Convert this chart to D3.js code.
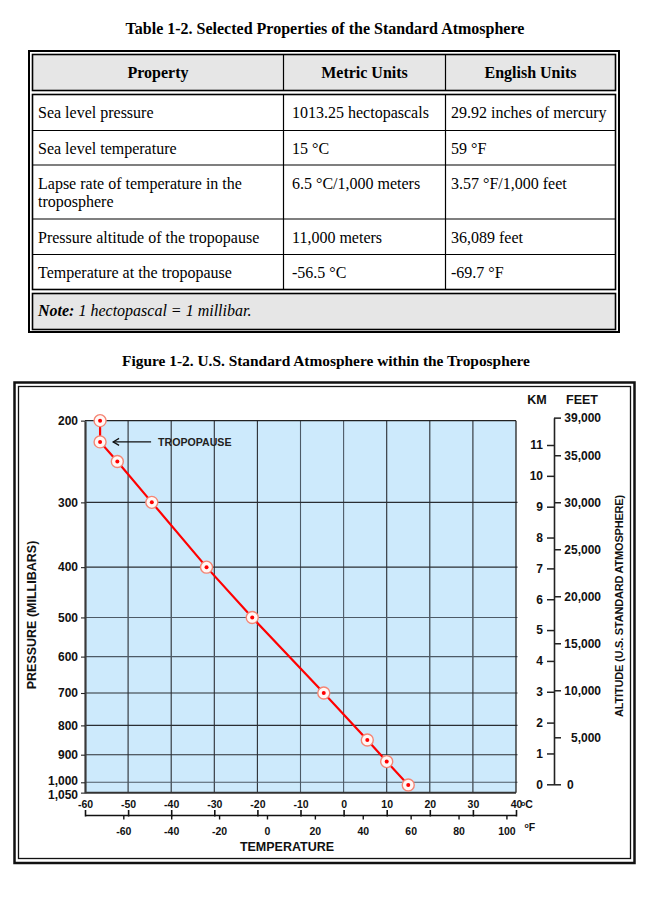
<!DOCTYPE html>
<html><head><meta charset="utf-8">
<script src="https://cdn.jsdelivr.net/npm/d3@7"></script>
<style>html,body{margin:0;padding:0;background:#fff;} svg{display:block;}</style>
</head><body><svg id="c" width="650" height="903"></svg>
<script>
// ---------------- DATA ----------------
const tableTitle = "Table 1-2. Selected Properties of the Standard Atmosphere";
const tableHeaders = ["Property", "Metric Units", "English Units"];
const tableProperty = [["Sea level pressure"], ["Sea level temperature"], ["Lapse rate of temperature in the", "troposphere"], ["Pressure altitude of the tropopause"], ["Temperature at the tropopause"]];
const tableMetric = ["1013.25 hectopascals", "15 °C", "6.5 °C/1,000 meters", "11,000 meters", "-56.5 °C"];
const tableEnglish = ["29.92 inches of mercury", "59 °F", "3.57 °F/1,000 feet", "36,089 feet", "-69.7 °F"];
const noteLabel = "Note:";
const noteText = " 1 hectopascal = 1 millibar.";

const figTitle = "Figure 1-2. U.S. Standard Atmosphere within the Troposphere";
// profile points (temperature °C vs pressure mb)
const tempC = [-56.5, -56.5, -52.5, -44.5, -31.8, -21.2, -4.6, 5.5, 10.0, 15.0];
const pressure = [200, 226, 250, 300, 400, 500, 700, 850, 925, 1013.25];
const tropopauseIndex = 1;
const tropopauseLabel = "TROPOPAUSE";
// pressure axis: ticks and their equivalent altitudes (km)
const pressureTicks = [200, 300, 400, 500, 600, 700, 800, 900, 1000, 1050];
const pressureTickLabels = ["200", "300", "400", "500", "600", "700", "800", "900", "1,000", "1,050"];
const pressureTickAltKm = [11.79, 9.14, 7.04, 5.41, 4.14, 2.96, 1.91, 0.96, 0.065, -0.27];
const tempCTicks = [-60, -50, -40, -30, -20, -10, 0, 10, 20, 30, 40];
const tempFTicks = [-60, -40, -20, 0, 20, 40, 60, 80, 100];
const kmTicks = [0, 1, 2, 3, 4, 5, 6, 7, 8, 9, 10, 11];
const feetTicks = [0, 5000, 10000, 15000, 20000, 25000, 30000, 35000, 39000];
const yLabel = "PRESSURE (MILLIBARS)";
const xLabel = "TEMPERATURE";
const rightLabel = "ALTITUDE (U.S. STANDARD ATMOSPHERE)";

// ---------------- DRAW ----------------
const svg = d3.select("#c");
const serif = "'Liberation Serif','Times New Roman',serif";
const sans = "'Liberation Sans',Arial,Helvetica,sans-serif";
const plain = d => String(d);

// ----- Table -----
svg.append("text").attr("x", 325).attr("y", 34).attr("text-anchor", "middle")
  .attr("font-family", serif).attr("font-weight", "bold").attr("font-size", 16).text(tableTitle);

const T = { l: 29, r: 619, t: 51, b: 332, il: 32.5, ir: 615.5 };
const colX = [T.il, 283.5, 445.5, T.ir];
const rowY = [94.5, 130.5, 165, 219, 254.5, 289.5];
svg.append("rect").attr("x", T.l).attr("y", T.t).attr("width", T.r - T.l).attr("height", T.b - T.t)
  .attr("fill", "none").attr("stroke", "#000").attr("stroke-width", 2);
svg.append("rect").attr("x", T.il).attr("y", 54.5).attr("width", T.ir - T.il).attr("height", 36)
  .attr("fill", "#e6e6e6").attr("stroke", "#000").attr("stroke-width", 1.6);
svg.append("rect").attr("x", T.il).attr("y", rowY[0]).attr("width", T.ir - T.il).attr("height", rowY[5] - rowY[0])
  .attr("fill", "#fff").attr("stroke", "#000").attr("stroke-width", 1.6);
svg.append("rect").attr("x", T.il).attr("y", 293.5).attr("width", T.ir - T.il).attr("height", 36)
  .attr("fill", "#e6e6e6").attr("stroke", "#000").attr("stroke-width", 1.6);
[1, 2].forEach(i => {
  svg.append("line").attr("x1", colX[i]).attr("x2", colX[i]).attr("y1", 54.5).attr("y2", 90.5).attr("stroke", "#000").attr("stroke-width", 1.2);
  svg.append("line").attr("x1", colX[i]).attr("x2", colX[i]).attr("y1", rowY[0]).attr("y2", rowY[5]).attr("stroke", "#000").attr("stroke-width", 1.2);
});
rowY.slice(1, 5).forEach(y => svg.append("line").attr("x1", T.il).attr("x2", T.ir).attr("y1", y).attr("y2", y).attr("stroke", "#000").attr("stroke-width", 1.2));
tableHeaders.forEach((h, i) => {
  svg.append("text").attr("x", (colX[i] + colX[i + 1]) / 2).attr("y", 78).attr("text-anchor", "middle")
    .attr("font-family", serif).attr("font-weight", "bold").attr("font-size", 16).text(h);
});
const cellText = (x, y, s) => svg.append("text").attr("x", x).attr("y", y).attr("font-family", serif).attr("font-size", 16).attr("fill", "#000").text(s);
tableProperty.forEach((lines, i) => {
  lines.forEach((s, j) => cellText(38, rowY[i] + 23.5 + j * 18.5, s));
  cellText(292, rowY[i] + 23.5, tableMetric[i]);
  cellText(451, rowY[i] + 23.5, tableEnglish[i]);
});
const note = svg.append("text").attr("x", 38).attr("y", 316).attr("font-family", serif).attr("font-size", 16).attr("font-style", "italic");
note.append("tspan").attr("font-weight", "bold").text(noteLabel);
note.append("tspan").text(noteText);

// ----- Figure -----
svg.append("text").attr("x", 326).attr("y", 366).attr("text-anchor", "middle")
  .attr("font-family", serif).attr("font-weight", "bold").attr("font-size", 15.4).text(figTitle);
svg.append("rect").attr("x", 14.5).attr("y", 382.5).attr("width", 620).attr("height", 480.5)
  .attr("fill", "none").attr("stroke", "#111").attr("stroke-width", 2.5);
svg.append("rect").attr("x", 18.5).attr("y", 386.5).attr("width", 612).attr("height", 472)
  .attr("fill", "none").attr("stroke", "#111").attr("stroke-width", 1.3);

const x = d3.scaleLinear().domain([-60, 40]).range([85, 516]);
const xF = d3.scaleLinear().domain([-76, 104]).range([85, 516]);
const yKm = d3.scaleLinear().domain([0, 11]).range([784.3, 445]);
const yFt = d3.scaleLinear().domain([0, 39000]).range([yKm(0), yKm(39000 / 3280.84)]);
const yP = d3.scaleLinear().domain(pressureTicks).range(pressureTickAltKm.map(k => yKm(k)));

const pTop = yP(200), pBot = yP(1050);
svg.append("rect").attr("x", x(-60)).attr("y", pTop).attr("width", x(40) - x(-60)).attr("height", pBot - pTop)
  .attr("fill", "#cdeafc");

const grid = svg.append("g");
grid.selectAll(".v").data(tempCTicks.slice(1, -1)).join("line")
  .attr("x1", d => x(d)).attr("x2", d => x(d)).attr("y1", pTop).attr("y2", pBot)
  .attr("stroke", d => (d === -10 || d === 0) ? "#4d5a66" : "#2a2e33").attr("stroke-width", 1.1);
grid.selectAll(".h").data(pressureTicks.slice(1, -1)).join("line")
  .attr("x1", x(-60)).attr("x2", x(40) + 1.5).attr("y1", d => yP(d)).attr("y2", d => yP(d))
  .attr("stroke", d => (d === 1000 || d === 500 || d === 600) ? "#4d5a66" : "#2a2e33").attr("stroke-width", 1.1);
svg.append("line").attr("x1", x(-60)).attr("x2", x(40)).attr("y1", pTop).attr("y2", pTop).attr("stroke", "#222").attr("stroke-width", 1.3);
svg.append("line").attr("x1", x(40)).attr("x2", x(40)).attr("y1", pTop).attr("y2", pBot).attr("stroke", "#222").attr("stroke-width", 1.3);
svg.append("line").attr("x1", x(-60)).attr("x2", x(40)).attr("y1", pBot).attr("y2", pBot).attr("stroke", "#333").attr("stroke-width", 2);

// left pressure axis
const axL = svg.append("g").attr("transform", `translate(${x(-60)},0)`)
  .call(d3.axisLeft(yP).tickValues(pressureTicks).tickFormat((d, i) => pressureTickLabels[i])
    .tickSizeInner(4).tickSizeOuter(0).tickPadding(3));
axL.select(".domain").attr("stroke", "#3a3a3a").attr("stroke-width", 2.2);
axL.selectAll(".tick line").attr("stroke", "#222").attr("stroke-width", 1.1);
axL.selectAll(".tick text").attr("font-family", sans).attr("font-weight", "bold").attr("font-size", 12).attr("fill", "#111");
axL.selectAll(".tick").filter(d => d === 1050).select("text").attr("dy", "0.45em");
axL.selectAll(".tick").filter(d => d === 1000).select("text").attr("dy", "0.22em");

// bottom Celsius axis
const axC = svg.append("g").attr("transform", "translate(0,815)")
  .call(d3.axisBottom(x).tickValues(tempCTicks).tickFormat(plain).tickSizeInner(-5).tickSizeOuter(0).tickPadding(-14.5));
axC.select(".domain").attr("stroke", "#111").attr("stroke-width", 1.6);
axC.selectAll(".tick line").attr("stroke", "#111").attr("stroke-width", 1.6).attr("y2", -5).attr("y1", 1.5);
axC.selectAll(".tick text").attr("font-family", sans).attr("font-weight", "bold").attr("font-size", 10.5).attr("fill", "#111");
const cUnit = svg.append("text").attr("x", 521).attr("y", 808).attr("font-family", sans).attr("font-weight", "bold").attr("font-size", 10.5).attr("fill", "#111");
cUnit.append("tspan").attr("font-size", 7).attr("dy", -2.5).text("o");
cUnit.append("tspan").attr("dy", 2.5).text("C");

// bottom Fahrenheit axis
const axF = svg.append("g").attr("transform", "translate(0,815)")
  .call(d3.axisBottom(xF).tickValues(tempFTicks).tickFormat(plain).tickSizeInner(4.5).tickSizeOuter(0).tickPadding(8));
axF.select(".domain").remove();
axF.selectAll(".tick line").attr("stroke", "#111").attr("stroke-width", 1.4);
axF.selectAll(".tick text").attr("font-family", sans).attr("font-weight", "bold").attr("font-size", 10.5).attr("fill", "#111");
const fUnit = svg.append("text").attr("x", 524.5).attr("y", 831).attr("font-family", sans).attr("font-weight", "bold").attr("font-size", 10.5).attr("fill", "#111");
fUnit.append("tspan").attr("font-size", 7).attr("dy", -3).text("o");
fUnit.append("tspan").attr("dy", 3).text("F");

svg.append("text").attr("x", 287).attr("y", 851).attr("text-anchor", "middle")
  .attr("font-family", sans).attr("font-weight", "bold").attr("font-size", 12.5).attr("fill", "#111").text(xLabel);
svg.append("text").attr("transform", "translate(36,615) rotate(-90)").attr("text-anchor", "middle")
  .attr("font-family", sans).attr("font-weight", "bold").attr("font-size", 12.5).attr("fill", "#111").text(yLabel);

// right altitude axes
const axKm = svg.append("g").attr("transform", "translate(554,0)")
  .call(d3.axisLeft(yKm).tickValues(kmTicks).tickFormat(plain).tickSizeInner(7).tickSizeOuter(0).tickPadding(4));
axKm.select(".domain").remove();
axKm.selectAll(".tick line").attr("stroke", "#222").attr("stroke-width", 1.5);
axKm.selectAll(".tick text").attr("font-family", sans).attr("font-weight", "bold").attr("font-size", 12).attr("fill", "#111");
const axFt = svg.append("g").attr("transform", "translate(554,0)")
  .call(d3.axisRight(yFt).tickValues(feetTicks).tickFormat(d3.format(",")).tickSizeInner(7).tickSizeOuter(0).tickPadding(3));
axFt.select(".domain").attr("stroke", "#222").attr("stroke-width", 1.6);
axFt.selectAll(".tick line").attr("stroke", "#222").attr("stroke-width", 1.5);
axFt.selectAll(".tick text").attr("font-family", sans).attr("font-weight", "bold").attr("font-size", 12).attr("fill", "#111")
  .attr("text-anchor", d => d === 0 ? "start" : "end").attr("x", d => d === 0 ? 13 : 47);
svg.append("text").attr("x", 537).attr("y", 404).attr("text-anchor", "middle")
  .attr("font-family", sans).attr("font-weight", "bold").attr("font-size", 12.5).attr("fill", "#111").text("KM");
svg.append("text").attr("x", 582).attr("y", 404).attr("text-anchor", "middle")
  .attr("font-family", sans).attr("font-weight", "bold").attr("font-size", 12.5).attr("fill", "#111").text("FEET");
svg.append("text").attr("transform", "translate(623,606) rotate(-90)").attr("text-anchor", "middle")
  .attr("font-family", sans).attr("font-weight", "bold").attr("font-size", 11).attr("letter-spacing", -0.2).attr("fill", "#111").text(rightLabel);

// profile line
const pts = tempC.map((t, i) => [x(t), yP(pressure[i])]);
svg.append("path").attr("d", d3.line()(pts)).attr("fill", "none").attr("stroke", "#ff0000").attr("stroke-width", 2.2);
svg.selectAll(".pt").data(pts).join("circle").attr("cx", d => d[0]).attr("cy", d => d[1]).attr("r", 6)
  .attr("fill", "#fff8f6").attr("stroke", "#f58574").attr("stroke-width", 1.4);
svg.selectAll(".dot").data(pts).join("circle").attr("cx", d => d[0]).attr("cy", d => d[1]).attr("r", 2)
  .attr("fill", "#ff0000");

// tropopause annotation
const tp = pts[tropopauseIndex];
svg.append("line").attr("x1", tp[0] + 13).attr("x2", tp[0] + 51).attr("y1", tp[1]).attr("y2", tp[1]).attr("stroke", "#111").attr("stroke-width", 1.2);
svg.append("path").attr("d", `M${tp[0] + 19},${tp[1] - 3.5} L${tp[0] + 13},${tp[1]} L${tp[0] + 19},${tp[1] + 3.5}`)
  .attr("fill", "none").attr("stroke", "#111").attr("stroke-width", 1.2);
svg.append("text").attr("x", tp[0] + 58).attr("y", tp[1] + 4).attr("font-family", sans).attr("font-weight", "bold")
  .attr("font-size", 10.6).attr("fill", "#222").text(tropopauseLabel);
</script></body></html>
